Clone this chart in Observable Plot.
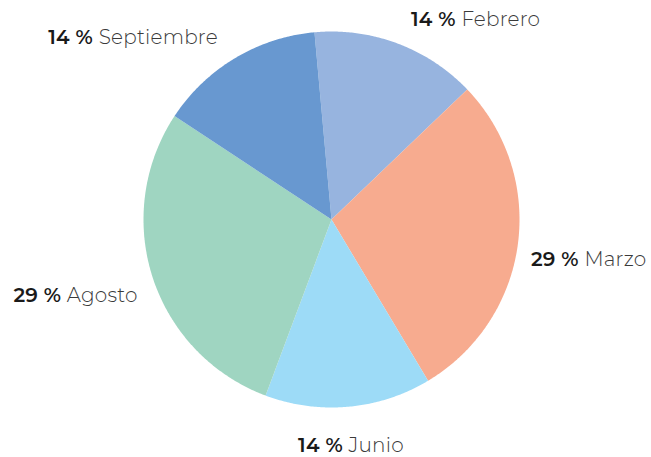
<!DOCTYPE html>
<html>
<head>
<meta charset="utf-8">
<script src="https://cdn.jsdelivr.net/npm/d3@7"></script>
<script src="https://cdn.jsdelivr.net/npm/@observablehq/plot@0.6"></script>
<style>
  html, body { margin: 0; padding: 0; background: #fff; }
  #chart svg { display: block; }
</style>
</head>
<body>
<div id="chart"></div>
<script>
// Data
const months = ["Febrero", "Marzo", "Junio", "Agosto", "Septiembre"];
const values = [1, 2, 1, 2, 1];
const percentLabels = ["14 %", "29 %", "14 %", "29 %", "14 %"];
const colors = ["#97B4DF", "#F7AB8F", "#9DDBF7", "#9FD5C1", "#6898D0"];

const W = 651, H = 457;
const R = 188;          // pie radius in px
const cx = 331, cy = 219;
const startDeg = -5.2;  // pie rotation (clockwise from 12 o'clock)

const total = d3.sum(values);
let acc = 0;
const slices = months.map((m, i) => {
  const a0 = startDeg + acc / total * 360;
  acc += values[i];
  const a1 = startDeg + acc / total * 360;
  return {month: m, value: values[i], pct: percentLabels[i], a0, a1, mid: (a0 + a1) / 2};
});

// arc outline points for each slice (unit circle, angles clockwise from north)
const rad = d => d * Math.PI / 180;
const pts = [];
for (const s of slices) {
  pts.push({month: s.month, x: 0, y: 0});
  const n = Math.max(2, Math.ceil(s.a1 - s.a0) * 2);
  for (let k = 0; k <= n; k++) {
    const a = rad(s.a0 + (s.a1 - s.a0) * k / n);
    pts.push({month: s.month, x: Math.sin(a), y: Math.cos(a)});
  }
  pts.push({month: s.month, x: 0, y: 0});
}

// label positions (outside end)
const labels = slices.map(s => {
  const a = rad(s.mid);
  const sx = Math.sin(a), cs = Math.cos(a);
  const lr = 1.06 + 0.08 * Math.abs(cs);
  const anchor = sx > 0.3 ? "start" : sx < -0.3 ? "end" : "middle";
  const xShift = Math.abs(sx) <= 0.8 && cs > 0 ? 0.025 * Math.sign(sx) : 0;
  return {...s, x: lr * sx + xShift,
    y: lr * cs - (cs < -0.5 ? 0.07 : 0) - (Math.abs(sx) > 0.8 ? 0.07 : 0),
    anchor};
});

const xDomain = [-cx / R, (W - cx) / R];
const yDomain = [-(H - cy) / R, cy / R];

const fontFam = "Montserrat, 'Open Sans', sans-serif";

const textMark = (anchor) => {
  const sub = labels.filter(d => d.anchor === anchor);
  return Plot.text(sub, {
    x: "x", y: "y",
    text: d => d.pct,
    textAnchor: anchor,
    fill: "#1a1a1a",
    fontSize: 20,
    render: (index, scales, values, dims, ctx, next) => {
      const g = next(index, scales, values, dims, ctx);
      d3.select(g).selectAll("text").each(function(_, j) {
        const d = sub[index[j]];
        const t = d3.select(this);
        t.text(null);
        t.append("tspan").attr("font-weight", 600).attr("fill", "#1a1a1a").text(d.pct + " ");
        t.append("tspan").attr("font-weight", 300).attr("fill", "#3a3a3a").text(d.month);
      });
      return g;
    }
  });
};

const chart = Plot.plot({
  width: W,
  height: H,
  margin: 0,
  x: {domain: xDomain, axis: null},
  y: {domain: yDomain, axis: null},
  color: {domain: months, range: colors},
  style: {fontFamily: fontFam, background: "#fff", letterSpacing: "0.2px"},
  marks: [
    Plot.line(pts, {x: "x", y: "y", z: "month", fill: "month", stroke: null, curve: "linear"}),
    textMark("start"),
    textMark("end"),
    textMark("middle")
  ]
});
document.getElementById("chart").appendChild(chart);
</script>
</body>
</html>
